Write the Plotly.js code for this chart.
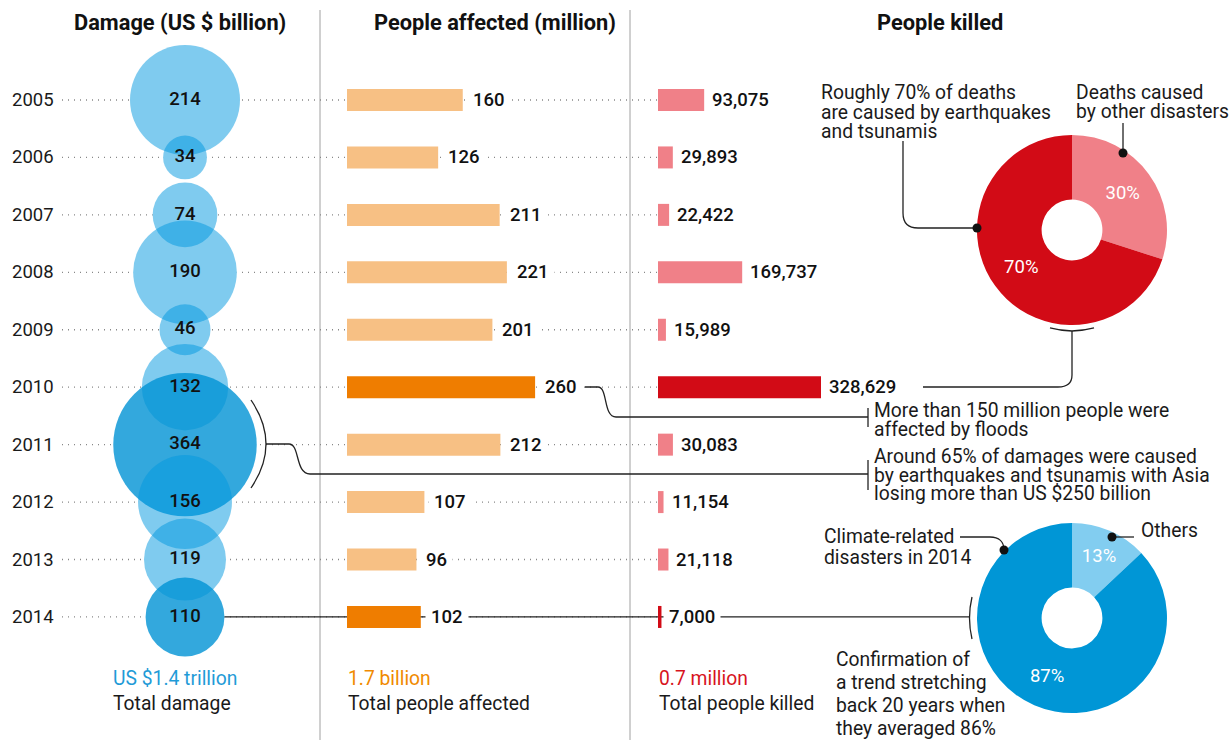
<!DOCTYPE html>
<html><head><meta charset="utf-8">
<script src="https://cdn.plot.ly/plotly-3.0.1.min.js"></script>
<style>html,body{margin:0;padding:0;background:#fff}#chart{width:1232px;height:740px}</style>
</head><body><div id="chart"></div>
<script>
// ---------- DATA ----------
const years = [2005, 2006, 2007, 2008, 2009, 2010, 2011, 2012, 2013, 2014];
const damage = [214, 34, 74, 190, 46, 132, 364, 156, 119, 110];          // US $ billion
const affected = [160, 126, 211, 221, 201, 260, 212, 107, 96, 102];      // million
const killed = [93075, 29893, 22422, 169737, 15989, 328629, 30083, 11154, 21118, 7000];
const damageHighlight = [2011, 2014];
const affectedHighlight = [2010, 2014];
const killedHighlight = [2010, 2014];
const deathCauses = ['Other disasters', 'Earthquakes and tsunamis'];
const deathShares = [30, 70];
const disasterTypes = ['Others', 'Climate-related'];
const disasterShares = [13, 87];
const columnTitles = ['Damage (US $ billion)', 'People affected (million)', 'People killed'];

// ---------- HELPERS ----------
const W = 1232, H = 740;
const PX = x => x / W, PY = y => 1 - y / H;
function path() {
  let s = '';
  const a = arguments;
  for (let i = 0; i < a.length;) {
    if (typeof a[i] === 'string') { s += a[i]; i++; }
    else { s += PX(a[i]).toFixed(5) + ',' + PY(a[i + 1]).toFixed(5) + ' '; i += 2; }
  }
  return s;
}
const INK = '#1a1a1a';
const TXT = 19.3, NUM = 18.5;
function pshape(d, layer) {
  return {type: 'path', xref: 'paper', yref: 'paper', path: d, line: {color: '#222', width: 1.3}, layer: layer || 'above'};
}
function dot(x, y) {
  return {type: 'circle', xref: 'paper', yref: 'paper', x0: PX(x - 4.5), x1: PX(x + 4.5), y0: PY(y + 4.5), y1: PY(y - 4.5),
    fillcolor: '#111', line: {width: 0}, layer: 'above'};
}
function ann(text, x, y, opt) {
  opt = opt || {};
  return Object.assign({xref: 'paper', yref: 'paper', x: PX(x), y: PY(y), text: text, showarrow: false,
    xanchor: 'left', yanchor: 'middle', font: {size: TXT, color: INK}}, opt);
}
const fmt = v => v.toLocaleString('en-US');
const sum = a => a.reduce((s, v) => s + v, 0);

// year axis: 2005 at 100px, step 57.44px
const rowTop = 100, rowStep = 57.44;
const yTop = years[0] - rowTop / rowStep;
const yBottom = yTop + H / rowStep;

// bubble scale: radius = 3.76*sqrt(v)
const bubbleSizeref = 1 / (2 * 14.136);

const lightBubble = 'rgba(0,152,224,0.5)', darkBubble = 'rgba(0,146,212,0.8)';
const traces = [
  // white underlay to hide dotted guides
  {type: 'scatter', mode: 'markers', x: years.map(() => 0), y: years, xaxis: 'x', yaxis: 'y',
    marker: {size: damage, sizemode: 'area', sizeref: bubbleSizeref, color: '#ffffff', opacity: 1, line: {width: 0}}, hoverinfo: 'skip'},
  {type: 'scatter', mode: 'markers+text', x: years.map(() => 0), y: years, xaxis: 'x', yaxis: 'y',
    text: damage.map(String), textposition: 'middle center',
    textfont: {size: NUM, color: '#111', weight: 500},
    marker: {size: damage, sizemode: 'area', sizeref: bubbleSizeref, opacity: 1,
      color: years.map(y => damageHighlight.includes(y) ? darkBubble : lightBubble), line: {width: 0}}, hoverinfo: 'skip'},
  {type: 'bar', orientation: 'h', x: affected, y: years, xaxis: 'x2', yaxis: 'y', width: 0.383,
    marker: {color: years.map(y => affectedHighlight.includes(y) ? '#ef7d00' : '#f7c084'), line: {width: 0}},
    textposition: 'none', hoverinfo: 'skip'},
  {type: 'bar', orientation: 'h', x: killed, y: years, xaxis: 'x3', yaxis: 'y', width: 0.383,
    marker: {color: years.map(y => killedHighlight.includes(y) ? '#d20b16' : '#f08088'), line: {width: 0}},
    textposition: 'none', hoverinfo: 'skip'},
  {type: 'pie', values: deathShares, labels: deathCauses, sort: false, direction: 'clockwise', rotation: 0,
    hole: 0.32, domain: {x: [PX(977), PX(1167)], y: [PY(325), PY(135)]},
    marker: {colors: ['#f08088', '#d20b16'], line: {width: 0}},
    texttemplate: '%{value}%', textposition: 'inside', insidetextorientation: 'horizontal',
    textfont: {color: '#ffffff', size: NUM}, hoverinfo: 'skip'},
  {type: 'pie', values: disasterShares, labels: disasterTypes, sort: false, direction: 'clockwise', rotation: 0,
    hole: 0.32, domain: {x: [PX(977), PX(1167)], y: [PY(713), PY(523)]},
    marker: {colors: ['#82cdf0', '#0096d6'], line: {width: 0}},
    texttemplate: '%{value}%', textposition: 'inside', insidetextorientation: 'horizontal',
    textfont: {color: '#ffffff', size: NUM}, hoverinfo: 'skip'}
];

// ---------- SHAPES ----------
const shapes = [];
[320, 630].forEach(x => shapes.push({type: 'line', xref: 'paper', yref: 'paper', x0: PX(x), x1: PX(x), y0: PY(10), y1: PY(740),
  line: {color: '#a0a0a0', width: 1}, layer: 'below'}));
years.forEach(y => shapes.push({type: 'line', xref: 'paper', yref: 'y', x0: PX(62), x1: PX(657), y0: y, y1: y,
  line: {color: '#888', width: 1.3, dash: '1px,5px'}, layer: 'below'}));
// 2014 connector across columns
shapes.push({type: 'line', xref: 'paper', yref: 'y', x0: PX(185), x1: PX(970), y0: years[9], y1: years[9],
  line: {color: '#222', width: 1.3}, layer: 'below'});
// 2011 bracket & connector
shapes.push(pshape(path('M', 251, 400, 'Q', 281, 444, 251, 488)));
shapes.push(pshape(path('M', 266, 444, 'L', 289, 444, 'C', 300, 444, 295, 474, 310, 474, 'L', 868, 474)));
shapes.push(pshape(path('M', 868, 460, 'L', 868, 490)));
// 2010 connector
shapes.push(pshape(path('M', 585, 387, 'L', 598, 387, 'C', 608, 387, 603, 417, 616, 417, 'L', 868, 417)));
shapes.push(pshape(path('M', 868, 408, 'L', 868, 427)));
// pie 1 connectors
shapes.push(pshape(path('M', 903, 141, 'L', 903, 213, 'C', 903, 224, 909, 228, 918, 228, 'L', 977, 228)));
shapes.push(dot(977, 228));
shapes.push(pshape(path('M', 1123, 123, 'L', 1123, 153)));
shapes.push(dot(1123, 153));
shapes.push(pshape(path('M', 1050, 328, 'Q', 1072, 334, 1094, 328)));
shapes.push(pshape(path('M', 1072, 331, 'L', 1072, 375, 'C', 1072, 384, 1066, 387, 1058, 387, 'L', 923, 387)));
// pie 2 connectors
shapes.push(pshape(path('M', 960, 537, 'L', 990, 537, 'C', 999, 537, 1004, 542, 1004, 550)));
shapes.push(dot(1004, 550));
shapes.push(pshape(path('M', 1112, 537, 'L', 1134, 537)));
shapes.push(dot(1112, 537));
shapes.push(pshape(path('M', 972, 597, 'Q', 967, 618, 972, 639)));

// ---------- ANNOTATIONS ----------
const annotations = [];
const titleX = [180, 495, 940];
columnTitles.forEach((t, i) => annotations.push(ann(t, titleX[i], 22,
  {xanchor: 'center', font: {size: 21.8, color: '#111', weight: 'bold'}})));
years.forEach(y => annotations.push({xref: 'paper', yref: 'y', x: PX(10), y: y, text: String(y), showarrow: false,
  xanchor: 'left', yanchor: 'middle', font: {size: NUM, color: INK}}));
affected.forEach((v, i) => annotations.push({xref: 'x2', yref: 'y', x: v, y: years[i], text: String(v), showarrow: false,
  xanchor: 'left', yanchor: 'middle', xshift: 4, bgcolor: '#ffffff', borderpad: 5,
  font: {size: NUM, color: '#111', weight: 500}}));
killed.forEach((v, i) => annotations.push({xref: 'x3', yref: 'y', x: v, y: years[i], text: fmt(v), showarrow: false,
  xanchor: 'left', yanchor: 'middle', xshift: 2, bgcolor: '#ffffff', borderpad: 5,
  font: {size: NUM, color: '#111', weight: 500}}));
// totals
annotations.push(ann('US $' + (sum(damage) / 1000).toFixed(1) + ' trillion', 111, 678, {font: {size: TXT, color: '#1f9bd7'}}));
annotations.push(ann('Total damage', 111, 703));
annotations.push(ann((sum(affected) / 1000).toFixed(1) + ' billion', 346, 678, {font: {size: TXT, color: '#f08a00'}}));
annotations.push(ann('Total people affected', 346, 703));
annotations.push(ann((sum(killed) / 1e6).toFixed(1) + ' million', 657, 678, {font: {size: TXT, color: '#d7141d'}}));
annotations.push(ann('Total people killed', 657, 703));
// notes
[['Roughly 70% of deaths', 819, 92.5], ['are caused by earthquakes', 819, 112], ['and tsunamis', 819, 131.5],
 ['Deaths caused', 1074, 92], ['by other disasters', 1074, 111.5],
 ['More than 150 million people were', 872, 410], ['affected by floods', 872, 429.5],
 ['Around 65% of damages were caused', 872, 456.5], ['by earthquakes and tsunamis with Asia', 872, 475],
 ['losing more than US $250 billion', 872, 493.5],
 ['Climate-related', 822, 536], ['disasters in 2014', 822, 557], ['Others', 1139, 530],
 ['Confirmation of', 834, 659], ['a trend stretching', 834, 682], ['back 20 years when', 834, 705],
 ['they averaged 86%', 834, 728]
].forEach(n => annotations.push(ann(n[0], n[1], n[2])));

const layout = {
  width: W, height: H, margin: {l: 0, r: 0, t: 0, b: 0, pad: 0},
  paper_bgcolor: '#ffffff', plot_bgcolor: 'rgba(0,0,0,0)', showlegend: false, hovermode: false,
  font: {family: 'Roboto, sans-serif', color: INK, size: TXT},
  xaxis: {domain: [0, 1], range: [-185, W - 185], visible: false, fixedrange: true, anchor: 'y'},
  xaxis2: {domain: [PX(347), 1], range: [0, (W - 347) / 0.7235], visible: false, fixedrange: true, anchor: 'y'},
  xaxis3: {domain: [PX(658), 1], range: [0, (W - 658) / 0.000496], visible: false, fixedrange: true, anchor: 'y'},
  yaxis: {domain: [0, 1], range: [yBottom, yTop], visible: false, fixedrange: true, anchor: 'x'},
  shapes: shapes, annotations: annotations
};
Plotly.newPlot('chart', traces, layout, {displayModeBar: false, staticPlot: true});
</script></body></html>
